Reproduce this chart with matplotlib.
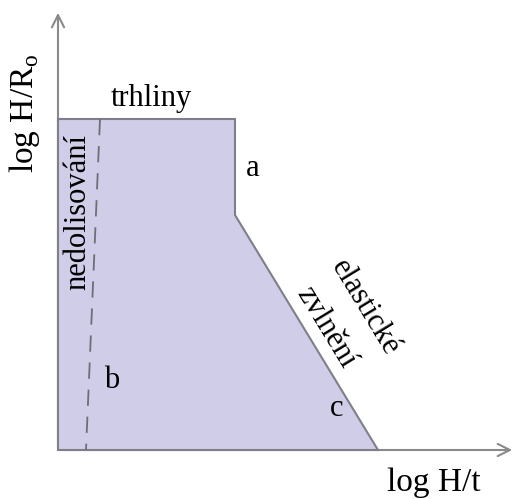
import matplotlib
matplotlib.use("Agg")
import matplotlib.pyplot as plt

# Region boundary (log H/t, log H/R0) in arbitrary units
region_x = [0, 0, 177, 177, 320]
region_y = [0, 331, 331, 235, 0]
# Dashed "nedolisování" boundary
dash_x = [42, 28]
dash_y = [331, 0]

plt.rcParams['font.family'] = ['Liberation Serif', 'DejaVu Serif']

fig = plt.figure(figsize=(5.2, 4.99), dpi=100)
ax = fig.add_axes([0, 0, 1, 1])
ax.set_xlim(-58, 462)
ax.set_ylim(-49, 450)
ax.axis('off')

ax.fill(region_x, region_y, facecolor='#cfcde8', edgecolor='#7f7f8a', linewidth=1.5, zorder=2)
ax.plot(dash_x, dash_y, color='#6e6e78', linewidth=1.3, dashes=(9, 6), zorder=3)

arrow = dict(arrowstyle='->', color='#8a8a8a', lw=1.5, mutation_scale=22)
ax.annotate('', xy=(0, 440), xytext=(0, 0), arrowprops=arrow, zorder=1)
ax.annotate('', xy=(457, 0), xytext=(0, 0), arrowprops=arrow, zorder=1)

fs = 22
ax.text(93, 352, 'trhliny', fontsize=fs, ha='center', va='center')
ax.text(195, 282, 'a', fontsize=fs, ha='center', va='center')
ax.text(54, 70, 'b', fontsize=fs, ha='center', va='center')
ax.text(279, 42, 'c', fontsize=fs, ha='center', va='center')
ax.text(20, 238, 'nedolisování', fontsize=fs, ha='center', va='center', rotation=90)
ax.text(307, 142, 'elastické', fontsize=fs, ha='center', va='center', rotation=-58.7)
ax.text(268, 122, 'zvlnění', fontsize=fs, ha='center', va='center', rotation=-58.7)
ax.text(-33, 337, 'log H/R$_\\mathregular{o}$', fontsize=fs + 2, ha='center', va='center', rotation=90)
ax.text(376, -33, 'log H/t', fontsize=fs + 2, ha='center', va='center')

fig.savefig('out.png', dpi=100)
